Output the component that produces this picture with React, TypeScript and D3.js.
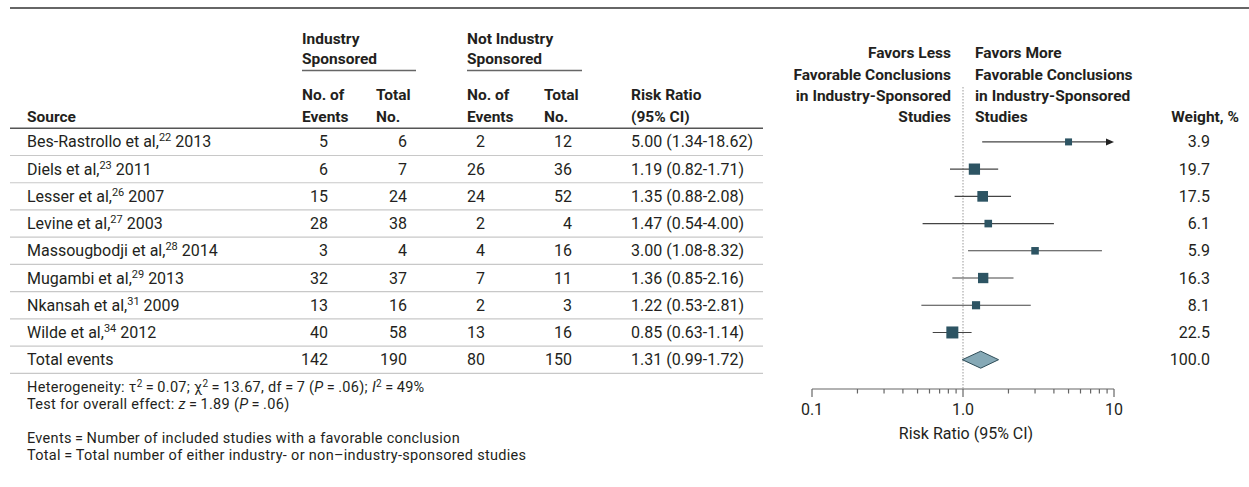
import React from "react";
import * as d3 from "d3";

const authors = ["Bes-Rastrollo et al,", "Diels et al,", "Lesser et al,", "Levine et al,", "Massougbodji et al,", "Mugambi et al,", "Nkansah et al,", "Wilde et al,"];
const refs = ["22", "23", "26", "27", "28", "29", "31", "34"];
const years = ["2013", "2011", "2007", "2003", "2014", "2013", "2009", "2012"];
const indEvents = [5, 6, 15, 28, 3, 32, 13, 40];
const indTotal = [6, 7, 24, 38, 4, 37, 16, 58];
const notEvents = [2, 26, 24, 2, 4, 7, 2, 13];
const notTotal = [12, 36, 52, 4, 16, 11, 3, 16];
const rr = [5.0, 1.19, 1.35, 1.47, 3.0, 1.36, 1.22, 0.85];
const lo = [1.34, 0.82, 0.88, 0.54, 1.08, 0.85, 0.53, 0.63];
const hi = [18.62, 1.71, 2.08, 4.0, 8.32, 2.16, 2.81, 1.14];
const weights = [3.9, 19.7, 17.5, 6.1, 5.9, 16.3, 8.1, 22.5];
const totalRow = { label: "Total events", indEvents: 142, indTotal: 190, notEvents: 80, notTotal: 150, rr: 1.31, lo: 0.99, hi: 1.72, weight: 100.0 };
const majorTicks = [0.1, 1, 10];
const majorLabels = ["0.1", "1.0", "10"];
const minorTicks = [0.2, 0.3, 0.4, 0.5, 0.6, 0.7, 0.8, 0.9, 2, 3, 4, 5, 6, 7, 8, 9];

const FONT = "Roboto, 'Liberation Sans', sans-serif";
const TXT = "#231f20";
const SQ = "#2d5463";
const TS = "\u2009";

export default function App() {
  const W = 1249, H = 487;
  const x = d3.scaleLog().domain([0.1, 10]).range([812, 1114]);
  const nRows = authors.length + 1;
  const y = d3.scaleBand<number>().domain(d3.range(nRows)).range([128.3, 373.3]);
  const rowC = (i: number) => (y(i) as number) + y.bandwidth() / 2;
  const size = d3.scaleLinear().domain([3.9, 22.5]).range([7, 12]);
  const fmt = (v: number) => v.toFixed(2);
  const axisY = 389;
  const fs = 16;
  const hfs = 15.5;
  const ffs = 14.5;
  const ls = 0.3;

  const rowLines = d3.range(1, nRows + 1).map((i) => (y(i - 1) as number) + y.bandwidth());

  return (
    <svg width={W} height={H} style={{ position: "absolute", left: 0, top: 0 }} fontFamily={FONT} fill={TXT}>
      <rect width={W} height={H} fill="#fff" />
      <line x1={10} x2={W} y1={8} y2={8} stroke="#333" strokeWidth={1.5} />

      {/* group headers */}
      <g fontWeight="bold" fontSize={hfs}>
        <text x={302} y={43.5}>Industry</text>
        <text x={302} y={64}>Sponsored</text>
        <text x={467} y={43.5}>Not Industry</text>
        <text x={467} y={64}>Sponsored</text>
        <line x1={302} x2={416} y1={70.5} y2={70.5} stroke="#666" strokeWidth={1.5} />
        <line x1={467} x2={582} y1={70.5} y2={70.5} stroke="#666" strokeWidth={1.5} />
        <text x={27} y={121.5}>Source</text>
        <text x={302} y={100}>No. of</text>
        <text x={302} y={121.5}>Events</text>
        <text x={376} y={100}>Total</text>
        <text x={376} y={121.5}>No.</text>
        <text x={467} y={100}>No. of</text>
        <text x={467} y={121.5}>Events</text>
        <text x={544} y={100}>Total</text>
        <text x={544} y={121.5}>No.</text>
        <text x={631} y={100}>Risk Ratio</text>
        <text x={631} y={121.5}>(95% CI)</text>
        <g textAnchor="end">
          <text x={951} y={58}>Favors Less</text>
          <text x={951} y={79.5}>Favorable Conclusions</text>
          <text x={951} y={101}>in Industry-Sponsored</text>
          <text x={951} y={122}>Studies</text>
          <text x={1239} y={122}>Weight, %</text>
        </g>
        <text x={975} y={58}>Favors More</text>
        <text x={975} y={79.5}>Favorable Conclusions</text>
        <text x={975} y={101}>in Industry-Sponsored</text>
        <text x={975} y={122}>Studies</text>
      </g>

      {/* table lines */}
      <line x1={10} x2={763} y1={128.3} y2={128.3} stroke="#555" strokeWidth={1.5} />
      {rowLines.map((ly, i) => (
        <line key={i} x1={10} x2={763} y1={ly} y2={ly} stroke="#c8c8c8" strokeWidth={1.2} />
      ))}

      {/* rows */}
      <g fontSize={fs}>
        {authors.map((a, i) => {
          const by = rowC(i) + 5.5;
          return (
            <g key={i}>
              <text x={27} y={by}>
                {a}
                <tspan fontSize={11} dy={-6}>{refs[i]}</tspan>
                <tspan dy={6}>{" " + years[i]}</tspan>
              </text>
              <text x={328} y={by} textAnchor="end">{indEvents[i]}</text>
              <text x={407} y={by} textAnchor="end">{indTotal[i]}</text>
              <text x={485} y={by} textAnchor="end">{notEvents[i]}</text>
              <text x={572} y={by} textAnchor="end">{notTotal[i]}</text>
              <text x={631} y={by}>{`${fmt(rr[i])} (${fmt(lo[i])}-${fmt(hi[i])})`}</text>
              <text x={1210} y={by} textAnchor="end">{weights[i].toFixed(1)}</text>
            </g>
          );
        })}
        {(() => {
          const by = rowC(nRows - 1) + 5.5;
          return (
            <g>
              <text x={27} y={by}>{totalRow.label}</text>
              <text x={328} y={by} textAnchor="end">{totalRow.indEvents}</text>
              <text x={407} y={by} textAnchor="end">{totalRow.indTotal}</text>
              <text x={485} y={by} textAnchor="end">{totalRow.notEvents}</text>
              <text x={572} y={by} textAnchor="end">{totalRow.notTotal}</text>
              <text x={631} y={by}>{`${fmt(totalRow.rr)} (${fmt(totalRow.lo)}-${fmt(totalRow.hi)})`}</text>
              <text x={1210} y={by} textAnchor="end">{totalRow.weight.toFixed(1)}</text>
            </g>
          );
        })()}
      </g>

      {/* reference line */}
      <line x1={x(1)} x2={x(1)} y1={87} y2={axisY} stroke="#999" strokeWidth={1} strokeDasharray="1.5,1.5" />

      {/* CIs and squares */}
      {authors.map((_, i) => {
        const cy = rowC(i);
        const clipped = hi[i] > 10;
        const x2 = clipped ? x(10) : x(hi[i]);
        const s = size(weights[i]);
        return (
          <g key={i}>
            <line x1={x(lo[i])} x2={clipped ? x2 - 6 : x2} y1={cy} y2={cy} stroke="#444" strokeWidth={1.1} />
            {clipped && (
              <path d={`M${x2},${cy} L${x2 - 8},${cy - 3.5} L${x2 - 8},${cy + 3.5} Z`} fill="#222" />
            )}
            <rect x={x(rr[i]) - s / 2} y={cy - s / 2} width={s} height={s} fill={SQ} />
          </g>
        );
      })}
      {(() => {
        const cy = rowC(nRows - 1);
        const h = 8.5;
        return (
          <path
            d={`M${x(totalRow.lo)},${cy} L${x(totalRow.rr)},${cy - h} L${x(totalRow.hi)},${cy} L${x(totalRow.rr)},${cy + h} Z`}
            fill="#86a9b6"
            stroke="#2f4d58"
            strokeWidth={1}
          />
        );
      })()}

      {/* axis */}
      <g stroke="#666" strokeWidth={1.2}>
        <line x1={x(0.1)} x2={x(10)} y1={axisY} y2={axisY} />
        {majorTicks.map((t) => (
          <line key={t} x1={x(t)} x2={x(t)} y1={axisY} y2={axisY + 8} />
        ))}
        {minorTicks.map((t) => (
          <line key={t} x1={x(t)} x2={x(t)} y1={axisY} y2={axisY + 4.5} />
        ))}
      </g>
      <g fontSize={fs} textAnchor="middle">
        {majorTicks.map((t, i) => (
          <text key={t} x={x(t)} y={415}>{majorLabels[i]}</text>
        ))}
        <text x={966} y={438.5}>Risk Ratio (95% CI)</text>
      </g>

      {/* footer */}
      <g fontSize={ffs} letterSpacing={ls}>
        <text x={27} y={392}>
          Heterogeneity: τ<tspan fontSize={10} dy={-5}>2</tspan>
          <tspan dy={5}>{`${TS}=${TS}0.07; χ`}</tspan>
          <tspan fontSize={10} dy={-5}>2</tspan>
          <tspan dy={5}>{`${TS}=${TS}13.67, df${TS}=${TS}7 (`}</tspan>
          <tspan fontStyle="italic">P</tspan>
          <tspan>{`${TS}=${TS}.06); `}</tspan>
          <tspan fontStyle="italic">I</tspan>
          <tspan fontSize={10} dy={-5}>2</tspan>
          <tspan dy={5}>{`${TS}=${TS}49%`}</tspan>
        </text>
        <text x={27} y={409}>
          {"Test for overall effect: "}
          <tspan fontStyle="italic">z</tspan>
          <tspan>{`${TS}=${TS}1.89 (`}</tspan>
          <tspan fontStyle="italic">P</tspan>
          <tspan>{`${TS}=${TS}.06)`}</tspan>
        </text>
        <text x={27} y={443}>{`Events${TS}=${TS}Number of included studies with a favorable conclusion`}</text>
        <text x={27} y={460}>{`Total${TS}=${TS}Total number of either industry- or non–industry-sponsored studies`}</text>
      </g>
    </svg>
  );
}
